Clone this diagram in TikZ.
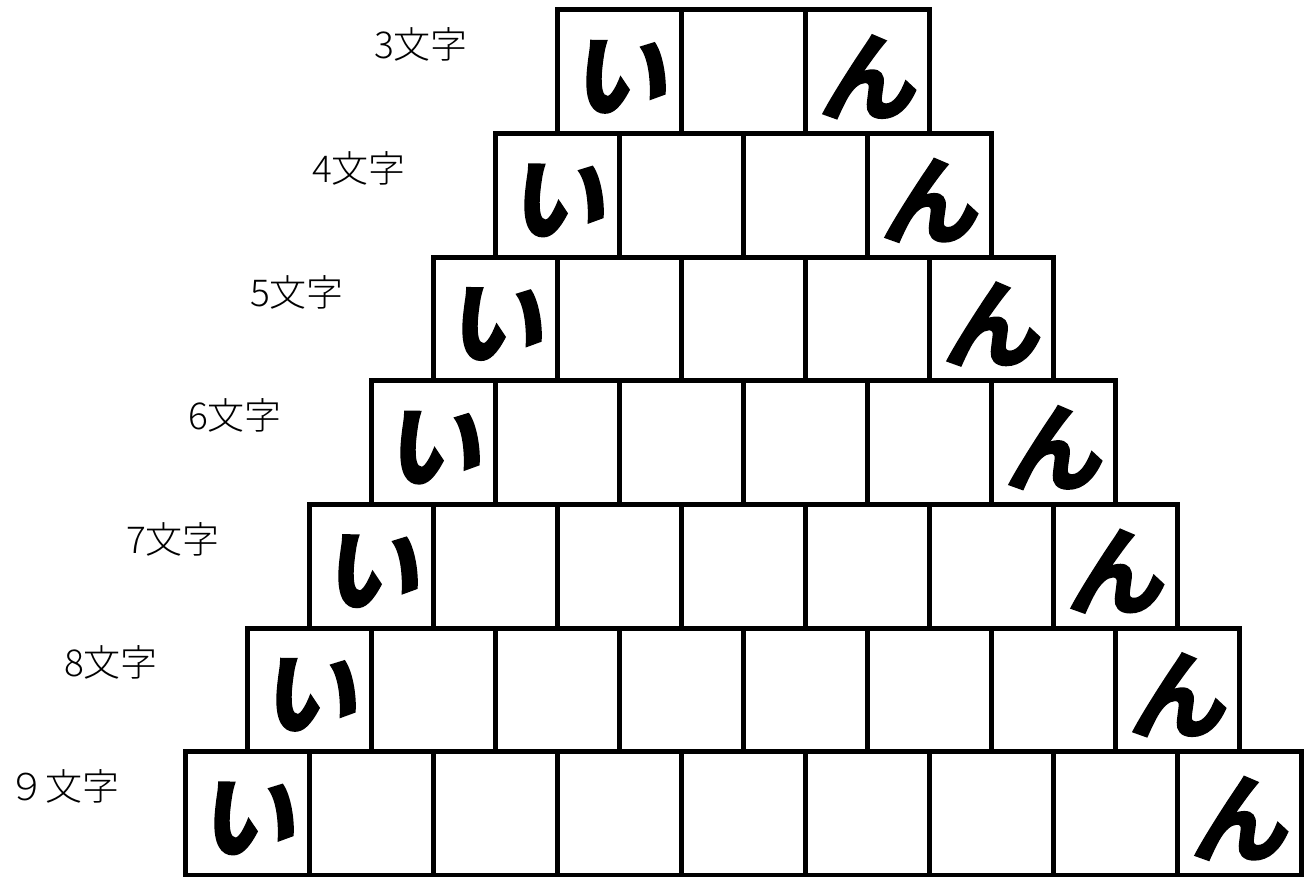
\documentclass[tikz,border=0pt]{standalone}
\usepackage{fontspec}
\newfontfamily\jp{Noto Sans CJK JP}[UprightFont=* Light]
\newfontfamily\jpb[UprightFont=* Bold,FakeBold=2.5,FakeSlant=0.15]{Noto Sans CJK JP}
\tikzset{
  cell/.style={draw=black,line width=5pt,inner sep=0pt,minimum width=124pt,minimum height=123.6pt},
  lab/.style={font=\jp\fontsize{37}{37}\selectfont,inner sep=0pt},
  kana/.style={font=\jpb\fontsize{97}{97}\selectfont,inner sep=0pt,yshift=-5pt}
}
\begin{document}
\begin{tikzpicture}[x=1pt,y=-1pt]
\useasboundingbox (0,0) rectangle (1305,877);
\foreach \k in {0,...,6}{
  \pgfmathsetmacro{\n}{int(\k+3)}
  \pgfmathsetmacro{\last}{int(\k+2)}
  \pgfmathsetmacro{\cy}{10+123.6*\k+61.8}
  \pgfmathsetmacro{\lx}{557-62*\k}
  \foreach \j in {0,...,\last}{
    \node[cell] (c-\k-\j) at ({\lx+62+124*\j},\cy) {};
  }
  \node[kana] (i-\k) at (c-\k-0.center) {い};
  \node[kana] (n-\k) at (c-\k-\last.center) {ん};
}
\node[lab] (l0) at (421,44) {3文字};
\node[lab] (l1) at (359,168) {4文字};
\node[lab] (l2) at (297,292) {5文字};
\node[lab] (l3) at (235,415) {6文字};
\node[lab] (l4) at (173,539) {7文字};
\node[lab] (l5) at (111,662) {8文字};
\node[lab] (l6) at (64,786) {９文字};
\end{tikzpicture}
\end{document}
